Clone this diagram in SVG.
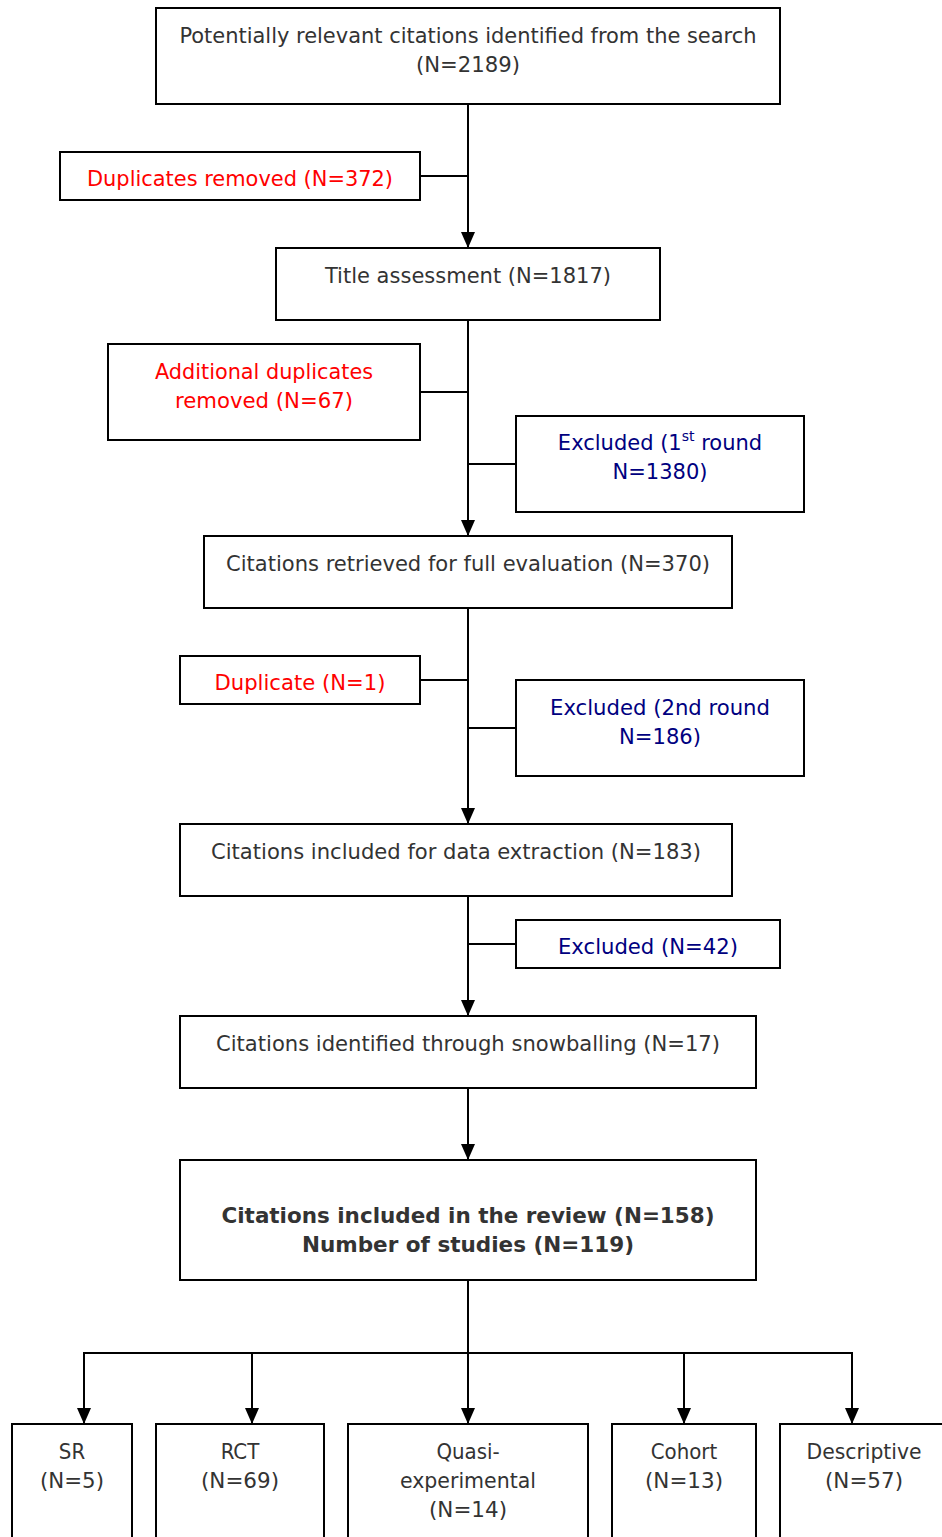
<svg xmlns="http://www.w3.org/2000/svg" width="942" height="1537" viewBox="0 0 942 1537">
<style>
.box{fill:#fff;stroke:#000;stroke-width:2}
.ln{fill:none;stroke:#000;stroke-width:2}
.g{font-family:"DejaVu Sans Condensed","DejaVu Sans",sans-serif;font-size:22px;fill:#333;text-anchor:middle}
.b{font-family:"DejaVu Sans",sans-serif;font-size:21px;font-weight:bold;fill:#333;text-anchor:middle}
.r{font-family:"DejaVu Sans",sans-serif;font-size:21px;fill:#f00;text-anchor:middle}
.n{font-family:"DejaVu Sans",sans-serif;font-size:21px;fill:#000080;text-anchor:middle}
</style>
<defs>
<marker id="ah" markerUnits="userSpaceOnUse" markerWidth="16" markerHeight="16" viewBox="0 0 16 16" refX="16" refY="8" orient="auto">
<path d="M0,1 L16,8 L0,15 Z" fill="#000"/>
</marker>
</defs>
<g id="connectors">
<line class="ln" x1="468" y1="104" x2="468" y2="248" marker-end="url(#ah)"/>
<line class="ln" x1="420" y1="176" x2="468" y2="176"/>
<line class="ln" x1="468" y1="320" x2="468" y2="536" marker-end="url(#ah)"/>
<line class="ln" x1="420" y1="392" x2="468" y2="392"/>
<line class="ln" x1="468" y1="464" x2="516" y2="464"/>
<line class="ln" x1="468" y1="608" x2="468" y2="824" marker-end="url(#ah)"/>
<line class="ln" x1="420" y1="680" x2="468" y2="680"/>
<line class="ln" x1="468" y1="728" x2="516" y2="728"/>
<line class="ln" x1="468" y1="896" x2="468" y2="1016" marker-end="url(#ah)"/>
<line class="ln" x1="468" y1="944" x2="516" y2="944"/>
<line class="ln" x1="468" y1="1088" x2="468" y2="1160" marker-end="url(#ah)"/>
<line class="ln" x1="468" y1="1280" x2="468" y2="1424" marker-end="url(#ah)"/>
<polyline class="ln" points="84,1424 84,1353 852,1353 852,1424"/>
<line class="ln" x1="84" y1="1353" x2="84" y2="1424" marker-end="url(#ah)"/>
<line class="ln" x1="252" y1="1353" x2="252" y2="1424" marker-end="url(#ah)"/>
<line class="ln" x1="684" y1="1353" x2="684" y2="1424" marker-end="url(#ah)"/>
<line class="ln" x1="852" y1="1353" x2="852" y2="1424" marker-end="url(#ah)"/>
</g>
<g id="n1"><rect class="box" x="156" y="8" width="624" height="96"/>
<text class="g" x="468" y="43" textLength="577" lengthAdjust="spacingAndGlyphs">Potentially relevant citations identified from the search</text>
<text class="g" x="468" y="72" textLength="104" lengthAdjust="spacingAndGlyphs">(N=2189)</text></g>
<g id="n2"><rect class="box" x="60" y="152" width="360" height="48"/>
<text class="r" x="240" y="186" textLength="306" lengthAdjust="spacingAndGlyphs">Duplicates removed (N=372)</text></g>
<g id="n3"><rect class="box" x="276" y="248" width="384" height="72"/>
<text class="g" x="468" y="283" textLength="286" lengthAdjust="spacingAndGlyphs">Title assessment (N=1817)</text></g>
<g id="n4"><rect class="box" x="108" y="344" width="312" height="96"/>
<text class="r" x="264" y="379" textLength="218" lengthAdjust="spacingAndGlyphs">Additional duplicates</text>
<text class="r" x="264" y="408" textLength="178" lengthAdjust="spacingAndGlyphs">removed (N=67)</text></g>
<g id="n5"><rect class="box" x="516" y="416" width="288" height="96"/>
<text class="n" x="660" y="450">Excluded (1<tspan font-size="14" dy="-9">st</tspan><tspan dy="9"> round</tspan></text>
<text class="n" x="660" y="479" textLength="95" lengthAdjust="spacingAndGlyphs">N=1380)</text></g>
<g id="n6"><rect class="box" x="204" y="536" width="528" height="72"/>
<text class="g" x="468" y="571" textLength="484" lengthAdjust="spacingAndGlyphs">Citations retrieved for full evaluation (N=370)</text></g>
<g id="n7"><rect class="box" x="180" y="656" width="240" height="48"/>
<text class="r" x="300" y="690" textLength="171" lengthAdjust="spacingAndGlyphs">Duplicate (N=1)</text></g>
<g id="n8"><rect class="box" x="516" y="680" width="288" height="96"/>
<text class="n" x="660" y="715" textLength="220" lengthAdjust="spacingAndGlyphs">Excluded (2nd round</text>
<text class="n" x="660" y="744" textLength="82" lengthAdjust="spacingAndGlyphs">N=186)</text></g>
<g id="n9"><rect class="box" x="180" y="824" width="552" height="72"/>
<text class="g" x="456" y="859" textLength="490" lengthAdjust="spacingAndGlyphs">Citations included for data extraction (N=183)</text></g>
<g id="n10"><rect class="box" x="516" y="920" width="264" height="48"/>
<text class="n" x="648" y="954" textLength="180" lengthAdjust="spacingAndGlyphs">Excluded (N=42)</text></g>
<g id="n11"><rect class="box" x="180" y="1016" width="576" height="72"/>
<text class="g" x="468" y="1051" textLength="504" lengthAdjust="spacingAndGlyphs">Citations identified through snowballing (N=17)</text></g>
<g id="n12"><rect class="box" x="180" y="1160" width="576" height="120"/>
<text class="b" x="468" y="1223" textLength="493" lengthAdjust="spacingAndGlyphs">Citations included in the review (N=158)</text>
<text class="b" x="468" y="1252" textLength="332" lengthAdjust="spacingAndGlyphs">Number of studies (N=119)</text></g>
<g id="n13"><rect class="box" x="12" y="1424" width="120" height="130"/>
<text class="g" x="72" y="1459">SR</text>
<text class="g" x="72" y="1488" textLength="64" lengthAdjust="spacingAndGlyphs">(N=5)</text></g>
<g id="n14"><rect class="box" x="156" y="1424" width="168" height="130"/>
<text class="g" x="240" y="1459">RCT</text>
<text class="g" x="240" y="1488" textLength="78" lengthAdjust="spacingAndGlyphs">(N=69)</text></g>
<g id="n15"><rect class="box" x="348" y="1424" width="240" height="130"/>
<text class="g" x="468" y="1459">Quasi-</text>
<text class="g" x="468" y="1488" textLength="136" lengthAdjust="spacingAndGlyphs">experimental</text>
<text class="g" x="468" y="1517" textLength="78" lengthAdjust="spacingAndGlyphs">(N=14)</text></g>
<g id="n16"><rect class="box" x="612" y="1424" width="144" height="130"/>
<text class="g" x="684" y="1459">Cohort</text>
<text class="g" x="684" y="1488" textLength="78" lengthAdjust="spacingAndGlyphs">(N=13)</text></g>
<g id="n17"><rect class="box" x="780" y="1424" width="180" height="130"/>
<text class="g" x="864" y="1459" textLength="115" lengthAdjust="spacingAndGlyphs">Descriptive</text>
<text class="g" x="864" y="1488" textLength="78" lengthAdjust="spacingAndGlyphs">(N=57)</text></g>
</svg>
